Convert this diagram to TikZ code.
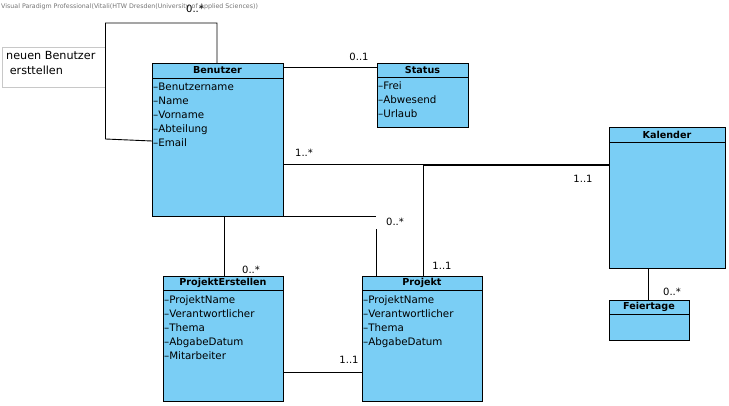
\documentclass[tikz,border=0pt]{standalone}
\usepackage{fontspec}
\setmainfont{DejaVu Sans}
\definecolor{clsfill}{RGB}{122,206,245}
\definecolor{notegray}{RGB}{200,200,200}
\begin{document}
\begin{tikzpicture}[x=1pt,y=-1pt,
  cls/.style={draw=black, fill=clsfill, line width=0.9pt, rectangle, inner sep=0pt, outer sep=0pt, anchor=north west},
  hdr/.style={font=\fontsize{9.6}{10}\selectfont\bfseries, inner sep=0pt},
  attr/.style={font=\fontsize{10.3}{12}\selectfont, inner sep=0pt, anchor=base west},
  mult/.style={font=\fontsize{10}{12}\selectfont, inner sep=0pt},
  conn/.style={draw=black, line width=0.9pt},
  sepline/.style={draw=black, line width=0.9pt}]
\useasboundingbox (0,0) rectangle (729,405);
% title
\node[font=\fontsize{6.3}{7}\selectfont, text=black!55, anchor=west, inner sep=0pt] (title) at (1,7) {Visual Paradigm Professional(Vitali(HTW Dresden(University of Applied Sciences))};
% note
\node[draw=notegray, line width=0.7pt, fill=white, minimum width=103pt, minimum height=40pt, anchor=north west, inner sep=0pt] (note) at (2,47) {};
\node[font=\fontsize{11.2}{15}\selectfont, anchor=north west, align=left, inner sep=0pt] (notetxt) at (6,51) {neuen Benutzer\\\ ersttellen};

% classes
\node[cls, minimum width=131pt, minimum height=153pt] (ben) at (152,63) {};
\node[cls, minimum width=91pt, minimum height=64pt] (sta) at (377,63) {};
\node[cls, minimum width=116pt, minimum height=141pt] (kal) at (609,127) {};
\node[cls, minimum width=80pt, minimum height=40pt] (fei) at (609,300) {};
\node[cls, minimum width=120pt, minimum height=125pt] (pe) at (163,276) {};
\node[cls, minimum width=120pt, minimum height=125pt] (pro) at (362,276) {};

\foreach \c/\h in {ben/15,sta/14.5,kal/15,fei/14.5,pe/14.5,pro/14.5}{
  \draw[sepline] ([yshift=-\h pt]\c.north west) -- ([yshift=-\h pt]\c.north east);
}
\node[hdr] (benh) at ([yshift=-7.5pt]ben.north) {Benutzer};
\node[hdr] (stah) at ([yshift=-7.3pt]sta.north) {Status};
\node[hdr] (kalh) at ([yshift=-7.5pt]kal.north) {Kalender};
\node[hdr] (feih) at ([yshift=-7.3pt]fei.north) {Feiertage};
\node[hdr] (peh) at ([yshift=-7.3pt]pe.north) {ProjektErstellen};
\node[hdr] (proh) at ([yshift=-7.3pt]pro.north) {Projekt};

\node[attr] (b1) at ([xshift=1pt,yshift=-27pt]ben.north west) {–Benutzername};
\node[attr] (b2) at ([xshift=1pt,yshift=-41pt]ben.north west) {–Name};
\node[attr] (b3) at ([xshift=1pt,yshift=-55pt]ben.north west) {–Vorname};
\node[attr] (b4) at ([xshift=1pt,yshift=-69pt]ben.north west) {–Abteilung};
\node[attr] (b5) at ([xshift=1pt,yshift=-83pt]ben.north west) {–Email};

\node[attr] (s1) at ([xshift=1pt,yshift=-26pt]sta.north west) {–Frei};
\node[attr] (s2) at ([xshift=1pt,yshift=-40pt]sta.north west) {–Abwesend};
\node[attr] (s3) at ([xshift=1pt,yshift=-54pt]sta.north west) {–Urlaub};

\node[attr] (e1) at ([xshift=1pt,yshift=-27pt]pe.north west) {–ProjektName};
\node[attr] (e2) at ([xshift=1pt,yshift=-41pt]pe.north west) {–Verantwortlicher};
\node[attr] (e3) at ([xshift=1pt,yshift=-55pt]pe.north west) {–Thema};
\node[attr] (e4) at ([xshift=1pt,yshift=-69pt]pe.north west) {–AbgabeDatum};
\node[attr] (e5) at ([xshift=1pt,yshift=-83pt]pe.north west) {–Mitarbeiter};

\node[attr] (p1) at ([xshift=1pt,yshift=-27pt]pro.north west) {–ProjektName};
\node[attr] (p2) at ([xshift=1pt,yshift=-41pt]pro.north west) {–Verantwortlicher};
\node[attr] (p3) at ([xshift=1pt,yshift=-55pt]pro.north west) {–Thema};
\node[attr] (p4) at ([xshift=1pt,yshift=-69pt]pro.north west) {–AbgabeDatum};

% connectors
\coordinate (loopA) at (217,23);
\coordinate (loopB) at (105.5,23);
\coordinate (loopC) at (105.5,139);
\draw[conn] (loopA |- ben.north) -- (loopA) -- (loopB) -- (loopC) -- ([yshift=-78pt]ben.north west);
\draw[conn] ([yshift=-4pt]ben.north east) -- ([yshift=-4pt]sta.north west);
\coordinate (bk) at (423,165.3);
\draw[conn] (ben.east |- 0,164) -- (kal.west |- 0,164);
\draw[conn] (bk |- pro.north) -- (bk) -- (kal.west |- bk);
\coordinate (bpA) at (376,216);
\coordinate (bpB) at (376,229);
\draw[conn] (ben.east |- bpA) -- (bpA);
\draw[conn] (bpB) -- (bpB |- pro.north);
\draw[conn] (224.5,0 |- ben.south) -- (224.5,0 |- pe.north);
\draw[conn] (pe.east |- 0,372) -- (pro.west |- 0,372);
\draw[conn] (648.5,0 |- kal.south) -- (648.5,0 |- fei.north);

% multiplicities
\node[mult] (m1) at (195,9) {0..*};
\node[mult] (m2) at (359,57) {0..1};
\node[mult] (m3) at (304,153) {1..*};
\node[mult] (m4) at (583,179) {1..1};
\node[mult] (m5) at (395,222) {0..*};
\node[mult] (m6) at (442,266) {1..1};
\node[mult] (m7) at (251,270) {0..*};
\node[mult] (m8) at (349,360) {1..1};
\node[mult] (m9) at (672,292) {0..*};
\end{tikzpicture}
\end{document}
